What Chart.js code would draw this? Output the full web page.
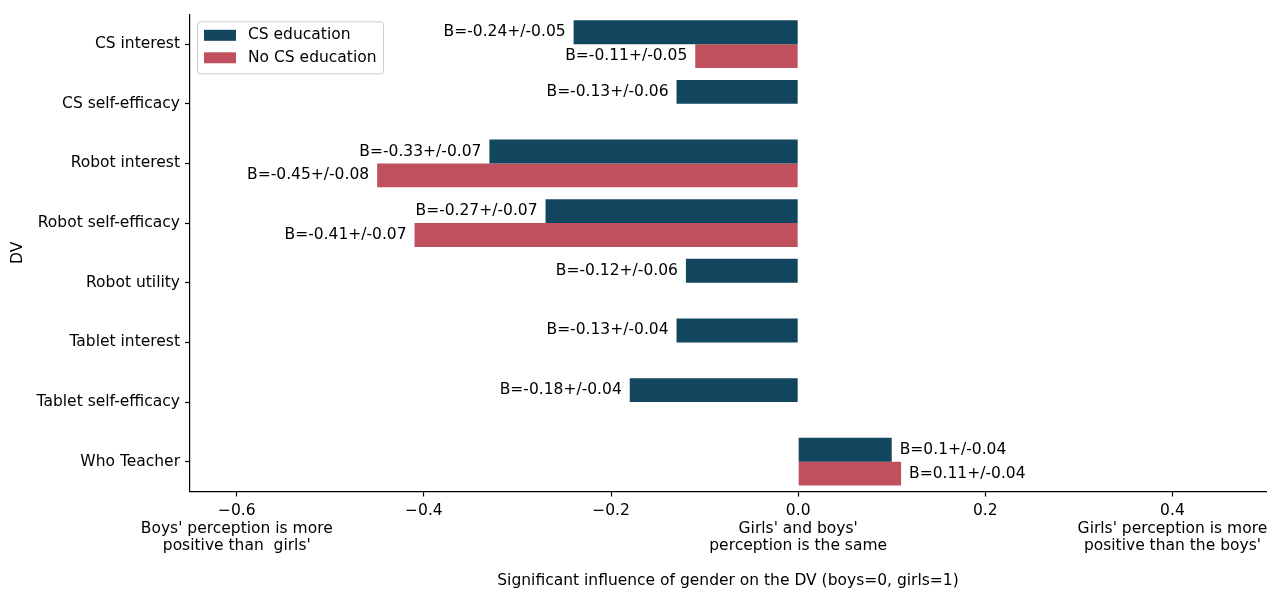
<!DOCTYPE html>
<html>
<head>
<meta charset="utf-8">
<script src="https://cdn.jsdelivr.net/npm/chart.js@4/dist/chart.umd.min.js"></script>
<style>
  html, body { margin: 0; padding: 0; background: #fff; }
  #wrap { width: 1272px; height: 592px; }
</style>
</head>
<body>
<div id="wrap"><canvas id="chart" width="1272" height="592"></canvas></div>
<script>
// Dependent variables (one row each)
const categories = [
  'CS interest', 'CS self-efficacy', 'Robot interest', 'Robot self-efficacy',
  'Robot utility', 'Tablet interest', 'Tablet self-efficacy', 'Who Teacher'
];

// Regression coefficient B of gender and its error, per group (null = not significant)
const csEducation      = [-0.24, -0.13, -0.33, -0.27, -0.12, -0.13, -0.18, 0.1];
const csEducationErr   = [0.05, 0.06, 0.07, 0.07, 0.06, 0.04, 0.04, 0.04];
const noCsEducation    = [-0.11, null, -0.45, -0.41, null, null, null, 0.11];
const noCsEducationErr = [0.05, null, 0.08, 0.07, null, null, null, 0.04];

// X axis ticks and the explanatory notes printed under some of them
const xTicks = [-0.6, -0.4, -0.2, 0.0, 0.2, 0.4];
const xTickNotes = {
  '-0.6': ["Boys' perception is more", "positive than  girls'"],
  '0':    ["Girls' and boys'", 'perception is the same'],
  '0.4':  ["Girls' perception is more", "positive than the boys'"]
};

const BLUE = '#12455e';
const RED = '#c1505e';
const FONT = "'DejaVu Sans', 'Liberation Sans', sans-serif";
const FONT_SIZE = 15.5;

Chart.defaults.font.family = FONT;
Chart.defaults.font.size = FONT_SIZE;
Chart.defaults.color = '#000';

function fmtTick(v) {
  const r = Math.round(v * 10) / 10;
  if (r === 0) return '0.0';
  return (r < 0 ? '\u2212' : '') + Math.abs(r).toFixed(1);
}

// "B=value+/-error" next to the end of each bar
const barValueLabels = {
  id: 'barValueLabels',
  afterDatasetsDraw(chart) {
    const ctx = chart.ctx;
    ctx.save();
    ctx.font = FONT_SIZE + 'px ' + FONT;
    ctx.fillStyle = '#000';
    ctx.textBaseline = 'middle';
    chart.data.datasets.forEach((ds, di) => {
      const meta = chart.getDatasetMeta(di);
      meta.data.forEach((bar, i) => {
        const v = ds.data[i];
        if (v === null || v === undefined) return;
        const txt = 'B=' + v + '+/-' + ds.errors[i];
        const gap = 8;
        if (v < 0) {
          ctx.textAlign = 'right';
          ctx.fillText(txt, bar.x - gap, bar.y);
        } else {
          ctx.textAlign = 'left';
          ctx.fillText(txt, bar.x + gap, bar.y);
        }
      });
    });
    ctx.restore();
  }
};

// Legend box in the upper-left corner of the plot area
const innerLegend = {
  id: 'innerLegend',
  afterDraw(chart) {
    const ctx = chart.ctx;
    const area = chart.chartArea;
    const x = area.left + 7, y = area.top + 7, w = 186, h = 52;
    ctx.save();
    ctx.beginPath();
    ctx.roundRect(x + 0.5, y + 0.5, w, h, 3);
    ctx.fillStyle = 'rgba(255,255,255,0.8)';
    ctx.fill();
    ctx.strokeStyle = '#cccccc';
    ctx.lineWidth = 1;
    ctx.stroke();
    ctx.font = FONT_SIZE + 'px ' + FONT;
    ctx.textBaseline = 'middle';
    ctx.textAlign = 'left';
    chart.data.datasets.forEach((ds, i) => {
      const cy = y + 14 + i * 22.5;
      ctx.fillStyle = ds.backgroundColor;
      ctx.fillRect(x + 7, cy - 5.5, 32, 11);
      ctx.fillStyle = '#000';
      ctx.fillText(ds.label, x + 51, cy);
    });
    ctx.restore();
  }
};

new Chart(document.getElementById('chart'), {
  type: 'bar',
  data: {
    labels: categories,
    datasets: [
      { label: 'CS education', data: csEducation, errors: csEducationErr, backgroundColor: BLUE, borderWidth: 0 },
      { label: 'No CS education', data: noCsEducation, errors: noCsEducationErr, backgroundColor: RED, borderWidth: 0 }
    ]
  },
  options: {
    indexAxis: 'y',
    responsive: false,
    animation: false,
    devicePixelRatio: 1,
    categoryPercentage: 0.8,
    barPercentage: 1.0,
    layout: { padding: { top: 12.5, right: 6, left: 0, bottom: 0 } },
    plugins: {
      legend: { display: false },
      tooltip: { enabled: false }
    },
    scales: {
      x: {
        type: 'linear',
        min: -0.65,
        max: 0.5,
        afterBuildTicks: (scale) => { scale.ticks = xTicks.map(v => ({ value: v })); },
        afterFit: (scale) => {
          scale.height = 100.5;
          scale.paddingRight = 0;
        },
        ticks: {
          autoSkip: false,
          maxRotation: 0,
          padding: 6,
          font: { size: FONT_SIZE, lineHeight: 1.12 },
          callback: (value) => {
            const key = String(Math.round(value * 10) / 10);
            const notes = xTickNotes[key];
            return notes ? [fmtTick(value)].concat(notes) : fmtTick(value);
          }
        },
        grid: { drawOnChartArea: false, drawTicks: true, tickLength: 5, tickWidth: 1.2, tickColor: '#000' },
        border: { display: true, color: '#000', width: 1.2 },
        title: {
          display: true,
          text: 'Significant influence of gender on the DV (boys=0, girls=1)',
          font: { size: FONT_SIZE },
          padding: { top: 0, bottom: 2 }
        }
      },
      y: {
        afterFit: (scale) => { scale.width = 190; },
        ticks: { padding: 5, autoSkip: false },
        grid: { offset: false, drawOnChartArea: false, drawTicks: true, tickLength: 5, tickWidth: 1.2, tickColor: '#000' },
        border: { display: true, color: '#000', width: 1.2 },
        title: {
          display: true,
          text: 'DV',
          font: { size: FONT_SIZE },
          padding: { top: 9, bottom: 0 }
        }
      }
    }
  },
  plugins: [barValueLabels, innerLegend]
});
</script>
</body>
</html>
